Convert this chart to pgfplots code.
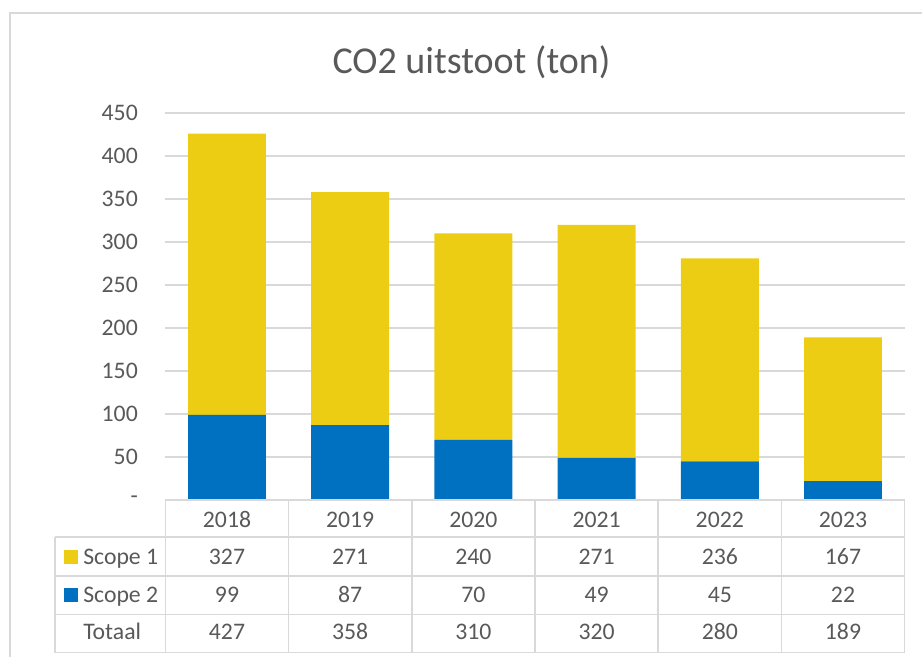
\documentclass[border=0pt]{standalone}
\usepackage{pgfplots}
\pgfplotsset{compat=1.18}
\usepackage{pgfplotstable}
\usepackage{fontspec}
\setmainfont{Carlito}
\definecolor{scopeA}{RGB}{237,204,20}
\definecolor{scopeB}{RGB}{0,112,192}
\definecolor{gridc}{RGB}{217,217,217}
\definecolor{txt}{RGB}{89,89,89}

\pgfplotstableread{
x year s1 s2 tot
0 2018 327 99 427
1 2019 271 87 358
2 2020 240 70 310
3 2021 271 49 320
4 2022 236 45 280
5 2023 167 22 189
}\data

\newcommand{\tf}{\fontsize{17.8}{20}\selectfont}

\begin{document}
\begin{tikzpicture}[x=0.75pt,y=-0.75pt]
\useasboundingbox (0,0) rectangle (922,657);
% outer chart frame
\draw[gridc, line width=1.2pt] (10,660) -- (10,13) -- (925,13);
% title
\node[anchor=base, text=txt, font=\fontsize{28.5}{32}\selectfont, inner sep=0pt] at (471.5,73) {CO2 uitstoot (ton)};
\begin{axis}[
  at={(124.05pt,-375pt)}, anchor=south west,
  scale only axis, width=554.4pt, height=290.25pt,
  xmin=-0.5, xmax=5.5, ymin=0, ymax=450,
  ybar stacked, bar width=0.633,
  xtick=\empty,
  ytick={0,50,...,450},
  yticklabels={-,50,100,150,200,250,300,350,400,450},
  ymajorgrids, grid style={gridc, line width=1.1pt},
  axis line style={draw=none},
  major tick length=0pt,
  tick label style={font=\tf, text=txt},
  y tick label style={anchor=east, inner sep=0pt, xshift=-20.5pt},
  /pgf/number format/assume math mode=true,
  clip=false,
]
\addplot[fill=scopeB, draw=none] table[x=x,y=s2]{\data};
\addplot[fill=scopeA, draw=none] table[x=x,y=s1]{\data};
\end{axis}
% data table grid
\begin{scope}[gridc, line width=1.1pt]
\foreach \i in {0,...,6} {
  \draw ({165.4+\i*123.2},500) -- ({165.4+\i*123.2},652.7);
}
\draw (55,537) -- (55,652.7);
\draw (165.4,500) -- (904.6,500);
\foreach \yy in {537,576,614.6,652.7} {
  \draw (55,\yy) -- (904.6,\yy);
}
\end{scope}
% legend keys and row labels
\fill[scopeA] (64,549.5) rectangle (78,563.5);
\fill[scopeB] (64,587.5) rectangle (78,601.5);
\node[anchor=base west, inner sep=0pt, text=txt, font=\tf] at (83,564.3) {Scope 1};
\node[anchor=base west, inner sep=0pt, text=txt, font=\tf] at (83,602.7) {Scope 2};
\node[anchor=base west, inner sep=0pt, text=txt, font=\tf] at (83,639.3) {Totaal};
% table values
\foreach \i in {0,...,5} {
  \pgfplotstablegetelem{\i}{year}\of\data
  \node[anchor=base, inner sep=0pt, text=txt, font=\tf] at ({227+\i*123.2},527) {\pgfplotsretval};
  \pgfplotstablegetelem{\i}{s1}\of\data
  \node[anchor=base, inner sep=0pt, text=txt, font=\tf] at ({227+\i*123.2},564.3) {\pgfplotsretval};
  \pgfplotstablegetelem{\i}{s2}\of\data
  \node[anchor=base, inner sep=0pt, text=txt, font=\tf] at ({227+\i*123.2},602.7) {\pgfplotsretval};
  \pgfplotstablegetelem{\i}{tot}\of\data
  \node[anchor=base, inner sep=0pt, text=txt, font=\tf] at ({227+\i*123.2},639.3) {\pgfplotsretval};
}
\end{tikzpicture}
\end{document}
